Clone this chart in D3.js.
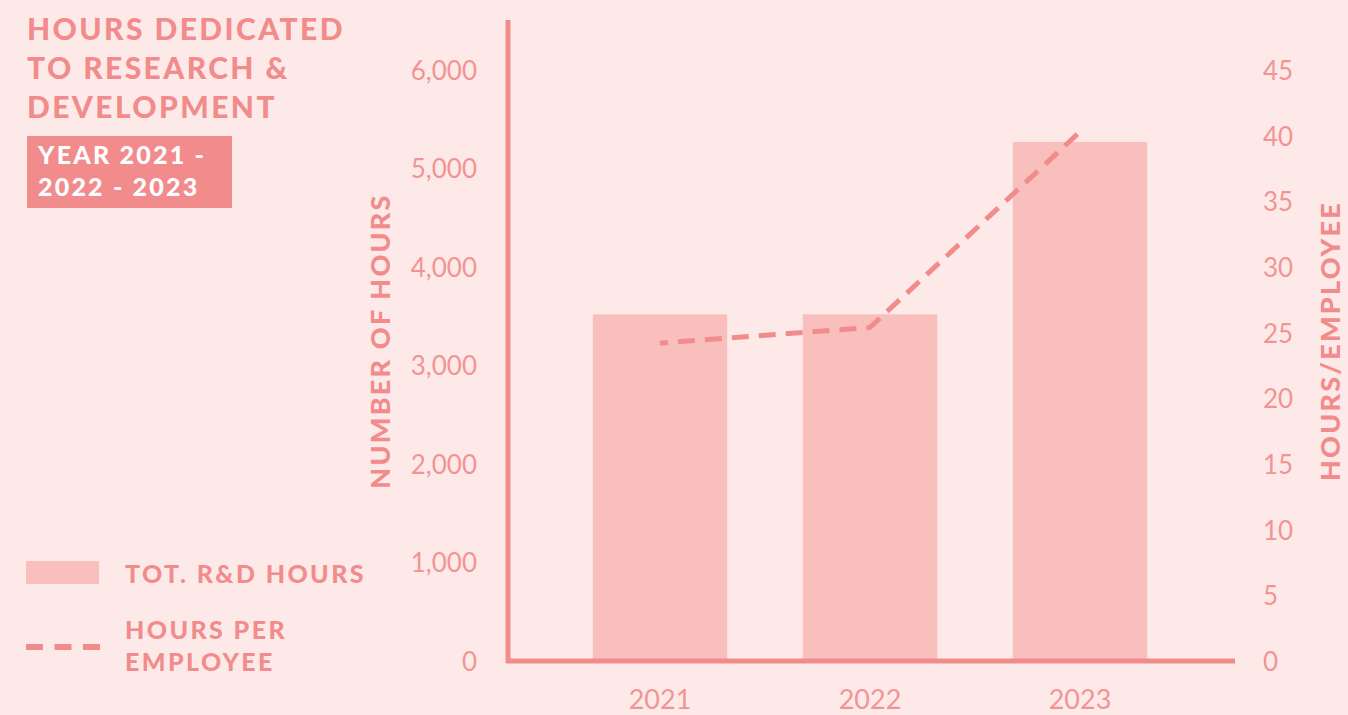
<!DOCTYPE html>
<html>
<head>
<meta charset="utf-8">
<script src="https://cdn.jsdelivr.net/npm/d3@7"></script>
<style>
  html, body { margin: 0; padding: 0; background: #FDEAE8; }
  svg { display: block; }
  text { font-family: Lato, "Open Sans", sans-serif; }
</style>
</head>
<body>
<svg id="chart" width="1348" height="715"></svg>
<script>
// Data
const years = ["2021", "2022", "2023"];
const totalHours = [3520, 3520, 5270];
const hoursPerEmployee = [24.2, 25.4, 40.3];
const leftTicks = [0, 1000, 2000, 3000, 4000, 5000, 6000];
const rightTicks = [0, 5, 10, 15, 20, 25, 30, 35, 40, 45];

const C_MAIN = "#F28C8C";
const C_TICK = "#F29494";
const C_BAR = "#F8BFBC";
const C_BG = "#FDEAE8";

const svg = d3.select("#chart");
svg.append("rect").attr("width", 1348).attr("height", 715).attr("fill", C_BG);

// Scales
const x = d3.scaleBand().domain(years).range([555, 1185]).paddingInner(0.36).paddingOuter(0.18);
const yL = d3.scaleLinear().domain([0, 6000]).range([661, 70]);
const yR = d3.scaleLinear().domain([0, 45]).range([661, 70]);

// Bars
svg.append("g").selectAll("rect")
  .data(years.map((yr, i) => ({ yr, v: totalHours[i] })))
  .join("rect")
  .attr("x", d => x(d.yr))
  .attr("width", x.bandwidth())
  .attr("y", d => yL(d.v))
  .attr("height", d => yL(0) - yL(d.v))
  .attr("fill", C_BAR);

// Hours-per-employee dashed line
const line = d3.line().x(d => x(d.yr) + x.bandwidth() / 2).y(d => yR(d.v));
svg.append("path")
  .datum(years.map((yr, i) => ({ yr, v: hoursPerEmployee[i] })))
  .attr("d", line)
  .attr("fill", "none")
  .attr("stroke", C_MAIN)
  .attr("stroke-width", 5)
  .attr("stroke-dasharray", "17,10")
  .attr("stroke-dashoffset", 9);

// Axis lines
svg.append("line").attr("x1", 508).attr("x2", 508).attr("y1", 20).attr("y2", 663)
  .attr("stroke", C_MAIN).attr("stroke-width", 5);
svg.append("line").attr("x1", 506).attr("x2", 1235).attr("y1", 661).attr("y2", 661)
  .attr("stroke", C_MAIN).attr("stroke-width", 5);

// Left axis ticks (labels only)
const leftAxis = d3.axisLeft(yL).tickValues(leftTicks).tickFormat(d3.format(",")).tickSize(0).tickPadding(0);
const gL = svg.append("g").attr("transform", "translate(477,0)").call(leftAxis);
gL.select(".domain").remove();
gL.selectAll("text").attr("fill", C_TICK).attr("font-size", 26).attr("font-weight", 400)
  .attr("font-family", "Lato, sans-serif").attr("dy", "0.36em");

// Right axis ticks
const rightAxis = d3.axisRight(yR).tickValues(rightTicks).tickSize(0).tickPadding(0);
const gR = svg.append("g").attr("transform", "translate(1263,0)").call(rightAxis);
gR.select(".domain").remove();
gR.selectAll("text").attr("fill", C_TICK).attr("font-size", 26).attr("font-weight", 400)
  .attr("font-family", "Lato, sans-serif").attr("dy", "0.36em");

// Bottom axis (years)
const bottomAxis = d3.axisBottom(x).tickSize(0).tickPadding(0);
const gB = svg.append("g").attr("transform", "translate(0,690)").call(bottomAxis);
gB.select(".domain").remove();
gB.selectAll("text").attr("fill", C_TICK).attr("font-size", 27).attr("font-weight", 400)
  .attr("font-family", "Lato, sans-serif").attr("dy", "0.72em");

// Axis titles
svg.append("text")
  .attr("transform", "translate(390,341) rotate(-90)")
  .attr("text-anchor", "middle")
  .attr("fill", C_MAIN).attr("font-size", 27).attr("font-weight", 900)
  .attr("letter-spacing", 2.2)
  .text("NUMBER OF HOURS");
svg.append("text")
  .attr("transform", "translate(1340,341) rotate(-90)")
  .attr("text-anchor", "middle")
  .attr("fill", C_MAIN).attr("font-size", 27).attr("font-weight", 900)
  .attr("letter-spacing", 2.2)
  .text("HOURS/EMPLOYEE");

// Title
const titleLines = ["HOURS DEDICATED", "TO RESEARCH &", "DEVELOPMENT"];
svg.append("g").selectAll("text").data(titleLines).join("text")
  .attr("x", 27).attr("y", (d, i) => 40 + i * 39)
  .attr("fill", C_MAIN).attr("font-size", 30).attr("font-weight", 900)
  .attr("letter-spacing", 2.4)
  .text(d => d);

// Year badge
svg.append("rect").attr("x", 27).attr("y", 136).attr("width", 205).attr("height", 72).attr("fill", C_MAIN);
const badgeLines = ["YEAR 2021 -", "2022 - 2023"];
svg.append("g").selectAll("text").data(badgeLines).join("text")
  .attr("x", 38).attr("y", (d, i) => 164 + i * 32)
  .attr("fill", "#ffffff").attr("font-size", 25).attr("font-weight", 900)
  .attr("letter-spacing", 2.2)
  .text(d => d);

// Legend
svg.append("rect").attr("x", 26).attr("y", 561).attr("width", 73).attr("height", 23).attr("fill", C_BAR);
svg.append("text").attr("x", 125).attr("y", 583)
  .attr("fill", C_MAIN).attr("font-size", 25).attr("font-weight", 900).attr("letter-spacing", 2.4)
  .text("TOT. R&D HOURS");
svg.append("line").attr("x1", 26).attr("x2", 100).attr("y1", 647).attr("y2", 647)
  .attr("stroke", C_MAIN).attr("stroke-width", 6).attr("stroke-dasharray", "17,11.5");
const legLines = ["HOURS PER", "EMPLOYEE"];
svg.append("g").selectAll("text").data(legLines).join("text")
  .attr("x", 125).attr("y", (d, i) => 639 + i * 32)
  .attr("fill", C_MAIN).attr("font-size", 25).attr("font-weight", 900).attr("letter-spacing", 2.4)
  .text(d => d);
</script>
</body>
</html>
